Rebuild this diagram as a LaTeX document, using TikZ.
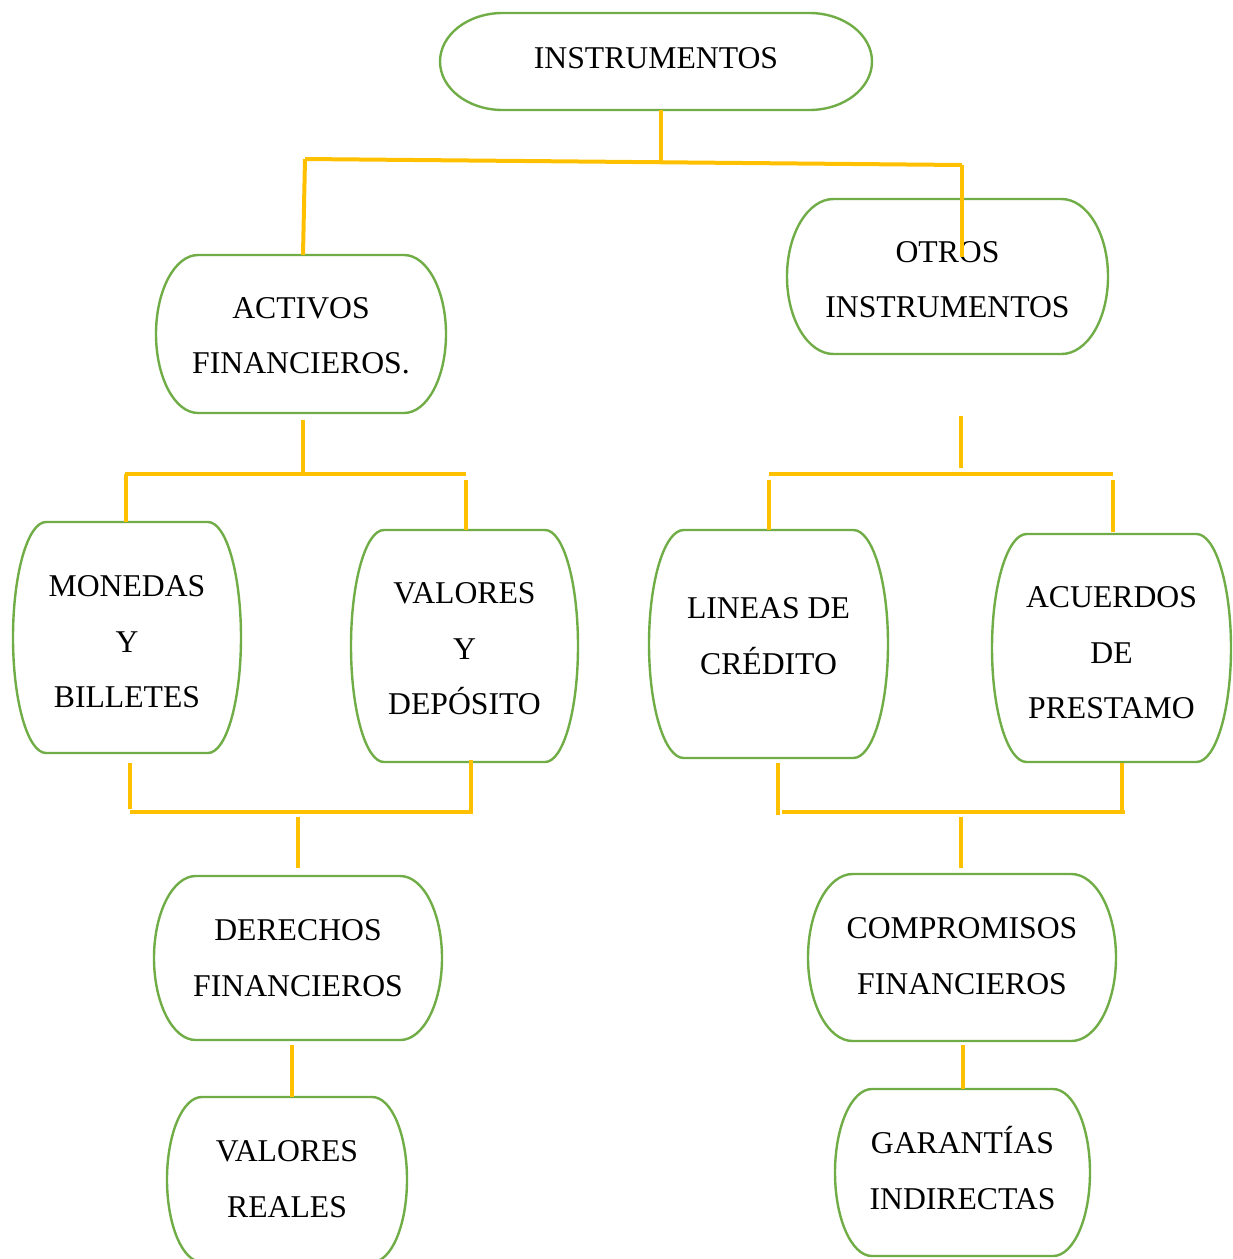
\documentclass[tikz,border=0pt]{standalone}
\usepackage{fontspec}
\setmainfont{Liberation Serif}
\usetikzlibrary{calc}
\definecolor{boxgreen}{HTML}{70AD47}
\definecolor{linkyellow}{HTML}{FFC000}

\tikzset{
  boxframe/.style={draw=boxgreen, line width=2.4pt, fill=white},
  boxlabel/.style={align=center, font=\fontsize{31.7}{55.5}\selectfont, inner sep=0pt},
  link/.style={draw=linkyellow, line width=4pt},
}

% terminator-like box: name, x1, y1, x2, y2, text centre y, text
\newcommand{\flowbox}[7]{%
  \pgfmathsetmacro\fbW{#4-#2}%
  \pgfmathsetmacro\fbH{#5-#3}%
  \pgfmathsetmacro\fbRx{0.145*\fbW}%
  \pgfmathsetmacro\fbRy{\fbH/2}%
  \node[inner sep=0pt, outer sep=0pt, minimum width=\fbW pt, minimum height=\fbH pt] (#1) at ({(#2+#4)/2},{(#3+#5)/2}) {};
  \draw[boxframe] ([xshift=\fbRx pt]#1.north west) -- ([xshift=-\fbRx pt]#1.north east)
    arc[start angle=90, end angle=-90, x radius=\fbRx pt, y radius=\fbRy pt]
    -- ([xshift=\fbRx pt]#1.south west)
    arc[start angle=270, end angle=90, x radius=\fbRx pt, y radius=\fbRy pt] -- cycle;
  \node[boxlabel] (#1-text) at ({(#2+#4)/2},#6) {#7};
}

\begin{document}
\begin{tikzpicture}[x=1pt, y=-1pt]
\useasboundingbox (0,0) rectangle (1233,1259);
\clip (0,0) rectangle (1233,1259);

% boxes
\flowbox{instr}{440}{13}{872}{110}{57}{\strut INSTRUMENTOS}
\flowbox{activos}{156}{255}{446}{413}{335}{\strut ACTIVOS\\\strut FINANCIEROS.}
\flowbox{otros}{787}{199}{1108}{354}{279}{\strut OTROS\\\strut INSTRUMENTOS}
\flowbox{monedas}{13}{522}{241}{753}{641}{\strut MONEDAS\\\strut Y\\\strut BILLETES}
\flowbox{valdep}{351}{530}{578}{762}{648}{\strut VALORES\\\strut Y\\\strut DEPÓSITO}
\flowbox{lineas}{649}{530}{888}{758}{635.5}{\strut LINEAS DE\\\strut CRÉDITO}
\flowbox{acuerdos}{992}{534}{1231}{762}{652}{\strut ACUERDOS\\\strut DE\\\strut PRESTAMO}
\flowbox{derechos}{154}{876}{442}{1040}{957.5}{\strut DERECHOS\\\strut FINANCIEROS}
\flowbox{compromisos}{808}{874}{1116}{1041}{955.5}{\strut COMPROMISOS\\\strut FINANCIEROS}
\flowbox{vreales}{167}{1097}{407}{1262}{1178.5}{\strut VALORES\\\strut REALES}
\flowbox{garantias}{835}{1089}{1090}{1256}{1170.5}{\strut GARANTÍAS\\\strut INDIRECTAS}

% junction points
\coordinate (top-mid) at (661,162);
\coordinate (top-l) at (305,159);
\coordinate (top-r) at (962,165);
\coordinate (otros-end) at (962,257);

\coordinate (act-stem) at (303,474);
\coordinate (act-l) at (125,474);
\coordinate (act-r) at (466,474);

\coordinate (mb-l) at (130,812);
\coordinate (mb-r) at (473,812);
\coordinate (mb-stem) at (298,817);

\coordinate (ot-stem-a) at (961,416);
\coordinate (ot-stem-b) at (961,468);
\coordinate (ot-l) at (769,474);
\coordinate (ot-r) at (1113,474);

\coordinate (la-l) at (782,812);
\coordinate (la-r) at (1125,812);
\coordinate (la-stem) at (961,817);

% connectors
\draw[link] ([xshift=5pt]instr.south) -- (top-mid);
\draw[link] (top-l) -- (top-r);
\draw[link] (top-l) -- ([xshift=2pt]activos.north);
\draw[link] (top-r) -- (otros-end);

\draw[link] ([xshift=2pt,yshift=-7pt]activos.south) -- (act-stem);
\draw[link] (act-l) -- (act-r);
\draw[link] ([xshift=1pt]act-l) -- ([xshift=-1pt]monedas.north);
\draw[link] ([yshift=-6pt]act-r) -- (valdep.north -| act-r);

\draw[link] ([yshift=-10pt]monedas.south -| mb-l) -- ([yshift=3pt]mb-l);
\draw[link] ([yshift=2pt]valdep.south -| 471,0) -- (471,812);
\draw[link] (mb-l) -- (mb-r);
\draw[link] (mb-stem) -- ([yshift=8pt]derechos.north -| mb-stem);

\draw[link] ([yshift=-5pt]derechos.south -| 292,0) -- (vreales.north -| 292,0);

\draw[link] (ot-stem-a) -- (ot-stem-b);
\draw[link] (ot-l) -- (ot-r);
\draw[link] ([yshift=-6pt]ot-l) -- (lineas.north -| ot-l);
\draw[link] ([yshift=-6pt]ot-r) -- ([yshift=2pt]acuerdos.north -| ot-r);

\draw[link] ([yshift=-5pt]lineas.south -| 778,0) -- (778,815);
\draw[link] ([yshift=-1pt]acuerdos.south -| 1122,0) -- (1122,813);
\draw[link] (la-l) -- (la-r);
\draw[link] (la-stem) -- ([yshift=6pt]compromisos.north -| la-stem);

\draw[link] ([yshift=-4pt]compromisos.south -| 963,0) -- (garantias.north -| 963,0);
\end{tikzpicture}
\end{document}
